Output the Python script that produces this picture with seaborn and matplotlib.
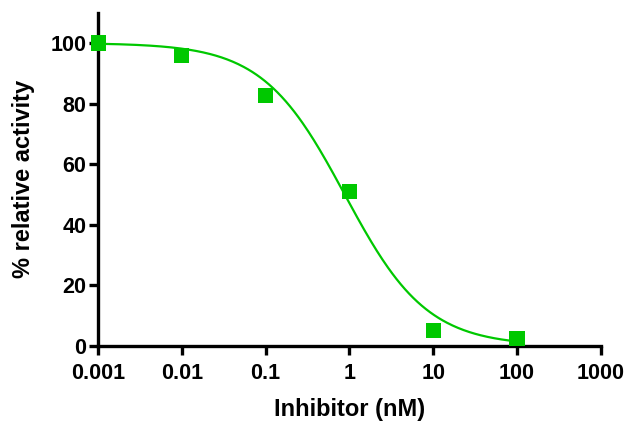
import numpy as np
import pandas as pd
import matplotlib
matplotlib.use('Agg')
import matplotlib.pyplot as plt
import seaborn as sns
from matplotlib.ticker import FixedLocator, FixedFormatter

# data
conc_nM = [0.001, 0.01, 0.1, 1, 10, 100]
activity = [100.0, 96.0, 82.8, 50.9, 5.0, 2.5]
xtick_vals = [0.001, 0.01, 0.1, 1, 10, 100, 1000]
xtick_labels = ['0.001', '0.01', '0.1', '1', '10', '100', '1000']
ytick_vals = [0, 20, 40, 60, 80, 100]

# dose-response fit shown on the chart (4PL, parameters)
fit_top = 100.0
fit_bottom = 0.0
fit_logic50 = -0.056
fit_hill = 0.885

green = '#00C800'

xfit = np.logspace(-3, 2, 300)
yfit = fit_bottom + (fit_top - fit_bottom) / (1 + 10 ** ((np.log10(xfit) - fit_logic50) * fit_hill))
fit = pd.DataFrame({'x': xfit, 'y': yfit})
pts = pd.DataFrame({'x': conc_nM, 'y': activity})

sns.set_style('ticks')
plt.rcParams['font.family'] = ['Liberation Sans', 'DejaVu Sans']
plt.rcParams['text.color'] = 'black'
plt.rcParams['axes.labelcolor'] = 'black'
plt.rcParams['xtick.color'] = 'black'
plt.rcParams['ytick.color'] = 'black'

fig = plt.figure(figsize=(6.29, 4.24), dpi=100)
ax = fig.add_axes([0.156, 0.184, 0.799, 0.786])

sns.lineplot(data=fit, x='x', y='y', color=green, lw=1.6, ax=ax)
sns.scatterplot(data=pts, x='x', y='y', color=green, marker='s', s=120,
                edgecolor='none', ax=ax, zorder=3, clip_on=False)

ax.set_xscale('log')
ax.set_xlim(0.001, 1000)
ax.set_ylim(0, 110)
ax.xaxis.set_major_locator(FixedLocator(xtick_vals))
ax.xaxis.set_major_formatter(FixedFormatter(xtick_labels))
ax.xaxis.set_minor_locator(FixedLocator([]))
ax.set_yticks(ytick_vals)

sns.despine(ax=ax)
for s in ['left', 'bottom']:
    ax.spines[s].set_linewidth(2.4)
    ax.spines[s].set_color('black')
ax.tick_params(axis='both', direction='out', length=6.5, width=2.4, color='black',
               labelsize=15.5, labelcolor='black')
ax.tick_params(axis='x', pad=6)
ax.tick_params(axis='y', pad=2)
for lab in ax.get_xticklabels() + ax.get_yticklabels():
    lab.set_fontweight('bold')

ax.set_xlabel('Inhibitor (nM)', fontsize=17, fontweight='bold', labelpad=10)
ax.set_ylabel('% relative activity', fontsize=17, fontweight='bold', labelpad=11)

fig.savefig('out.png', dpi=100)
